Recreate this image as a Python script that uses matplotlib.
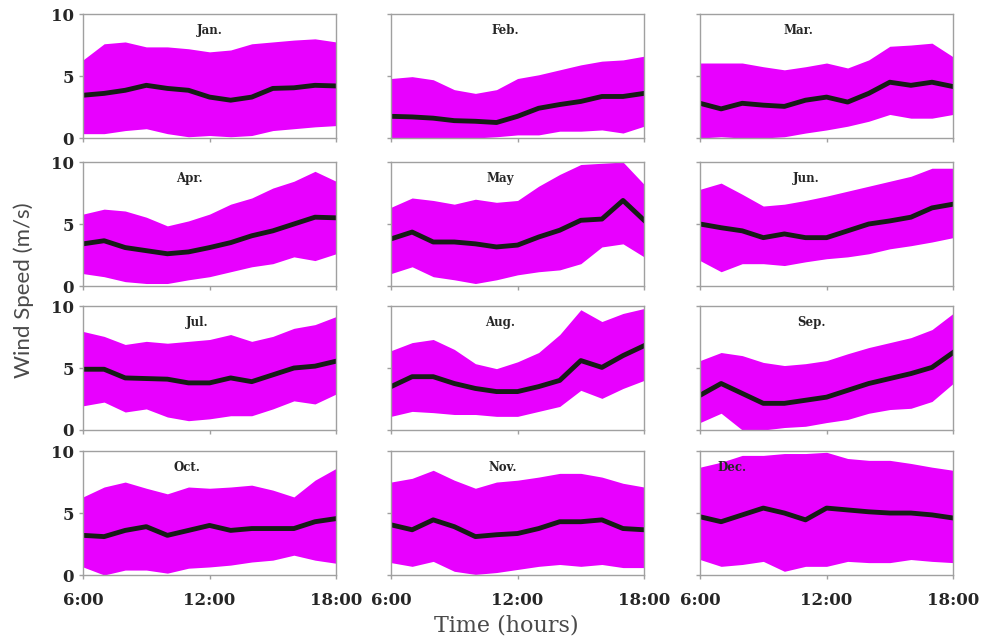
import matplotlib
matplotlib.use('Agg')
import matplotlib.pyplot as plt
import numpy as np

hours = [6, 7, 8, 9, 10, 11, 12, 13, 14, 15, 16, 17, 18]
months = ['Jan.', 'Feb.', 'Mar.', 'Apr.', 'May', 'Jun.',
          'Jul.', 'Aug.', 'Sep.', 'Oct.', 'Nov.', 'Dec.']

# mean wind speed (m/s), read hourly
mean_jan = [3.45, 3.6, 3.85, 4.25, 4.0, 3.85, 3.3, 3.05, 3.3, 4.0, 4.05, 4.25, 4.2]
mean_feb = [1.75, 1.7, 1.6, 1.4, 1.35, 1.25, 1.75, 2.4, 2.7, 2.95, 3.35, 3.35, 3.6]
mean_mar = [2.8, 2.35, 2.8, 2.65, 2.55, 3.05, 3.3, 2.9, 3.6, 4.5, 4.25, 4.5, 4.15]
mean_apr = [3.4, 3.65, 3.1, 2.85, 2.6, 2.75, 3.1, 3.5, 4.05, 4.45, 5.0, 5.55, 5.5]
mean_may = [3.8, 4.35, 3.55, 3.55, 3.4, 3.15, 3.3, 3.95, 4.5, 5.3, 5.4, 6.9, 5.3]
mean_jun = [5.0, 4.7, 4.45, 3.9, 4.2, 3.9, 3.9, 4.45, 5.0, 5.25, 5.55, 6.3, 6.6]
mean_jul = [4.9, 4.9, 4.2, 4.15, 4.1, 3.8, 3.8, 4.2, 3.9, 4.45, 5.0, 5.15, 5.55]
mean_aug = [3.5, 4.3, 4.3, 3.75, 3.35, 3.1, 3.1, 3.5, 4.0, 5.6, 5.05, 6.0, 6.8]
mean_sep = [2.8, 3.75, 2.95, 2.15, 2.15, 2.4, 2.65, 3.2, 3.75, 4.15, 4.55, 5.05, 6.25]
mean_oct = [3.2, 3.1, 3.6, 3.9, 3.2, 3.6, 4.0, 3.6, 3.75, 3.75, 3.75, 4.3, 4.55]
mean_nov = [4.05, 3.65, 4.45, 3.9, 3.1, 3.25, 3.35, 3.75, 4.3, 4.3, 4.45, 3.75, 3.65]
mean_dec = [4.7, 4.3, 4.85, 5.4, 5.0, 4.45, 5.4, 5.25, 5.1, 5.0, 5.0, 4.85, 4.6]

# upper edge of spread
upper_jan = [6.3, 7.6, 7.75, 7.35, 7.35, 7.2, 6.95, 7.1, 7.6, 7.75, 7.9, 8.0, 7.75]
upper_feb = [4.8, 4.95, 4.7, 3.9, 3.6, 3.9, 4.8, 5.1, 5.5, 5.9, 6.2, 6.3, 6.6]
upper_mar = [6.05, 6.05, 6.05, 5.75, 5.5, 5.75, 6.05, 5.65, 6.3, 7.4, 7.5, 7.65, 6.55]
upper_apr = [5.8, 6.2, 6.05, 5.55, 4.85, 5.25, 5.8, 6.6, 7.1, 7.9, 8.45, 9.25, 8.45]
upper_may = [6.35, 7.1, 6.9, 6.6, 7.0, 6.75, 6.9, 8.05, 9.0, 9.8, 9.9, 10.0, 8.2]
upper_jun = [7.8, 8.3, 7.4, 6.45, 6.6, 6.9, 7.25, 7.65, 8.05, 8.45, 8.85, 9.5, 9.5]
upper_jul = [7.95, 7.55, 6.9, 7.15, 7.0, 7.15, 7.3, 7.7, 7.15, 7.55, 8.2, 8.5, 9.15]
upper_aug = [6.4, 7.05, 7.3, 6.5, 5.35, 4.95, 5.5, 6.25, 7.7, 9.7, 8.75, 9.4, 9.8]
upper_sep = [5.6, 6.25, 6.0, 5.45, 5.2, 5.35, 5.6, 6.15, 6.65, 7.05, 7.45, 8.1, 9.4]
upper_oct = [6.3, 7.1, 7.5, 7.0, 6.55, 7.1, 7.0, 7.1, 7.25, 6.85, 6.3, 7.65, 8.6]
upper_nov = [7.5, 7.8, 8.45, 7.65, 7.0, 7.5, 7.65, 7.9, 8.2, 8.2, 7.9, 7.4, 7.1]
upper_dec = [8.7, 9.1, 9.65, 9.65, 9.8, 9.8, 9.9, 9.4, 9.25, 9.25, 9.0, 8.7, 8.45]

# lower edge of spread
lower_jan = [0.35, 0.35, 0.6, 0.75, 0.35, 0.1, 0.2, 0.1, 0.2, 0.6, 0.75, 0.9, 1.0]
lower_feb = [0.0, 0.0, 0.0, 0.0, 0.0, 0.1, 0.25, 0.25, 0.55, 0.55, 0.65, 0.4, 0.95]
lower_mar = [0.0, 0.1, 0.0, 0.0, 0.1, 0.4, 0.65, 0.95, 1.35, 1.9, 1.6, 1.6, 1.9]
lower_apr = [1.0, 0.75, 0.35, 0.2, 0.2, 0.5, 0.75, 1.15, 1.55, 1.8, 2.35, 2.05, 2.6]
lower_may = [1.0, 1.55, 0.75, 0.5, 0.2, 0.5, 0.9, 1.15, 1.3, 1.8, 3.15, 3.4, 2.35]
lower_jun = [2.05, 1.15, 1.8, 1.8, 1.65, 1.95, 2.2, 2.35, 2.6, 3.0, 3.25, 3.55, 3.9]
lower_jul = [1.95, 2.25, 1.45, 1.7, 1.05, 0.75, 0.9, 1.15, 1.15, 1.7, 2.35, 2.1, 2.9]
lower_aug = [1.1, 1.5, 1.4, 1.25, 1.25, 1.1, 1.1, 1.5, 1.9, 3.2, 2.55, 3.35, 4.0]
lower_sep = [0.6, 1.35, 0.0, 0.0, 0.2, 0.3, 0.6, 0.85, 1.35, 1.65, 1.75, 2.3, 3.75]
lower_oct = [0.65, 0.0, 0.4, 0.4, 0.15, 0.55, 0.65, 0.8, 1.05, 1.2, 1.6, 1.2, 0.95]
lower_nov = [1.0, 0.7, 1.1, 0.3, 0.05, 0.2, 0.45, 0.7, 0.85, 0.7, 0.85, 0.6, 0.6]
lower_dec = [1.25, 0.7, 0.85, 1.1, 0.3, 0.7, 0.7, 1.1, 1.0, 1.0, 1.25, 1.1, 1.0]

means = [mean_jan, mean_feb, mean_mar, mean_apr, mean_may, mean_jun,
         mean_jul, mean_aug, mean_sep, mean_oct, mean_nov, mean_dec]
uppers = [upper_jan, upper_feb, upper_mar, upper_apr, upper_may, upper_jun,
          upper_jul, upper_aug, upper_sep, upper_oct, upper_nov, upper_dec]
lowers = [lower_jan, lower_feb, lower_mar, lower_apr, lower_may, lower_jun,
          lower_jul, lower_aug, lower_sep, lower_oct, lower_nov, lower_dec]

# layout: title x position (axes fraction) per panel
title_x = [0.5, 0.45, 0.39, 0.42, 0.43, 0.42, 0.45, 0.43, 0.44, 0.41, 0.44, 0.07]

band_color = '#e800ff'
line_color = '#161c16'
frame_color = '#a0a0a0'
tick_font = {'family': 'DejaVu Serif', 'weight': 'bold', 'size': 12}

fig = plt.figure(figsize=(9.85, 6.44), dpi=100)
lefts = [0.0843, 0.397, 0.7107]
bottoms = [0.7857, 0.5559, 0.3323, 0.1071]
w, h = 0.2569, 0.1925

for i in range(12):
    row, col = divmod(i, 3)
    ax = fig.add_axes([lefts[col], bottoms[row], w, h])
    ax.fill_between(hours, lowers[i], uppers[i], color=band_color, lw=0, zorder=1)
    ax.plot(hours, means[i], color=line_color, lw=3.5, zorder=2)
    ax.set_xlim(6, 18)
    ax.set_ylim(0, 10)
    ax.set_xticks([6, 12, 18])
    ax.set_yticks([0, 5, 10])
    ax.tick_params(colors=frame_color, length=3, width=1)
    for s in ax.spines.values():
        s.set_color(frame_color)
        s.set_linewidth(1)
    if col == 0:
        ax.set_yticklabels(['0', '5', '10'], fontdict=tick_font, color='#262626')
    else:
        ax.set_yticklabels([])
    if row == 3:
        ax.set_xticklabels(['6:00', '12:00', '18:00'], fontdict=tick_font, color='#262626')
        ax.tick_params(axis='x', pad=9)
    else:
        ax.set_xticklabels([])
    ha = 'left' if i == 11 else 'center'
    ax.text(title_x[i], 0.87, months[i], transform=ax.transAxes, ha=ha, va='center',
            family='DejaVu Serif', weight='bold', fontsize=8.5, color='#262626', zorder=3)

fig.text(0.024, 0.55, 'Wind Speed (m/s)', rotation=90, ha='center', va='center',
         family='Lato', fontsize=16, color='#4a4a4a')
fig.text(0.514, 0.028, 'Time (hours)', ha='center', va='center',
         family='DejaVu Serif', fontsize=16, color='#4a4a4a')

fig.savefig('out.png', dpi=100)
